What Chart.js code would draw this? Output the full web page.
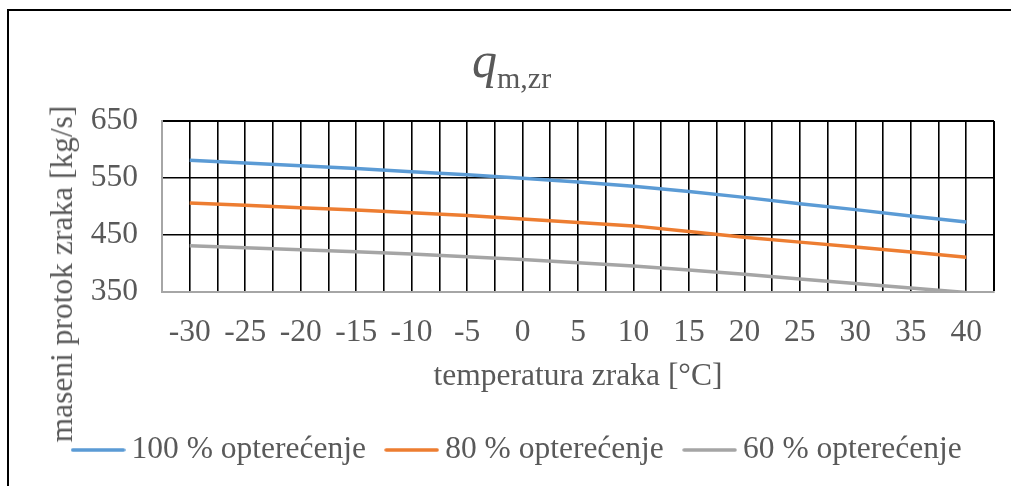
<!DOCTYPE html>
<html>
<head>
<meta charset="utf-8">
<script src="https://cdn.jsdelivr.net/npm/chart.js@4"></script>
<style>
    html, body { margin: 0; padding: 0; background: #fff; }
    body { width: 1011px; height: 486px; position: relative; overflow: hidden; font-family: "Liberation Serif", serif; color: #595959; }
    #frame { position: absolute; left: 7px; top: 9px; width: 1010px; height: 480px; border-top: 2px solid #000; border-left: 2px solid #000; }
    #wrap { position: absolute; left: 8px; top: 10px; width: 1003px; height: 476px; }
    #title { position: absolute; left: 472px; top: 31px; white-space: nowrap; }
    #title i { font-size: 50px; }
    #title span { font-size: 30px; vertical-align: -11px; }
    #ytitle { position: absolute; left: 62px; top: 274px; font-size: 31.5px; white-space: nowrap; transform: translate(-50%, -50%) rotate(-90deg); }
</style>
</head>
<body>
<div id="frame"></div>
<div id="wrap"><canvas id="chart"></canvas></div>
<div id="title"><i>q</i><span>m,zr</span></div>
<div id="ytitle">maseni protok zraka [kg/s]</div>
<script>
    // temperatura zraka [°C]
    const temps = [-30, -25, -20, -15, -10, -5, 0, 5, 10, 15, 20, 25, 30, 35, 40];
    // maseni protok zraka [kg/s]
    const load100 = [581, 576.5, 571.5, 566.5, 561, 555.5, 549.5, 543, 535.5, 526.5, 516, 505, 494.5, 483.5, 473];
    const load80 = [506, 502, 498, 494, 489, 484, 478, 472, 466, 456, 446, 437.5, 429, 420, 411];
    const load60 = [431, 427.5, 424, 420.5, 416.5, 412, 407, 401.5, 395.5, 388.5, 381, 373, 365, 357, 349];
    const seriesNames = ["100 % opterećenje", "80 % opterećenje", "60 % opterećenje"];
    const yTicks = [350, 450, 550, 650];

    const FONT = "Liberation Serif";
    const TEXT = "#595959";
    const toPoints = arr => arr.map((v, i) => ({ x: temps[i], y: v }));

    // little line swatch for the legend (longer than the legend box, like Excel)
    function swatch(color) {
        const c = document.createElement("canvas");
        c.width = 55;
        c.height = 6;
        const g = c.getContext("2d");
        g.strokeStyle = color;
        g.lineWidth = 3.5;
        g.lineCap = "round";
        g.beginPath();
        g.moveTo(2, 3);
        g.lineTo(53, 3);
        g.stroke();
        return c;
    }

    function makeSet(label, values, color) {
        return {
            label: label,
            data: toPoints(values),
            borderColor: color,
            backgroundColor: color,
            borderWidth: 3.5,
            pointRadius: 0,
            pointHoverRadius: 0,
            pointStyle: swatch(color),
            tension: 0,
            fill: false
        };
    }

    const ctx = document.getElementById("chart").getContext("2d");
    new Chart(ctx, {
        type: "line",
        data: {
            datasets: [
                makeSet(seriesNames[0], load100, "#5B9BD5"),
                makeSet(seriesNames[1], load80, "#ED7D31"),
                makeSet(seriesNames[2], load60, "#A5A5A5")
            ]
        },
        options: {
            responsive: true,
            maintainAspectRatio: false,
            animation: false,
            events: [],
            layout: { padding: { left: 40, right: 17, top: 111, bottom: 10.25 } },
            plugins: {
                tooltip: { enabled: false },
                legend: {
                    position: "bottom",
                    labels: {
                        usePointStyle: true,
                        pointStyleWidth: 35.5,
                        padding: 28,
                        color: TEXT,
                        font: { family: FONT, size: 31.5 }
                    }
                }
            },
            scales: {
                x: {
                    type: "linear",
                    min: -32.5,
                    max: 42.5,
                    afterBuildTicks: s => {
                        // one grid line every 2.5 °C, labels only on the data temps
                        const t = [];
                        for (let i = 0; i <= 30; i++) t.push({ value: -32.5 + i * 2.5 });
                        s.ticks = t;
                    },
                    afterFit: s => { s.paddingLeft = 0; s.paddingRight = 0; s.height = 114.25; },
                    grid: {
                        drawTicks: false,
                        color: c => (c.index === 0 ? "rgba(0,0,0,0)" : "#000"),
                        lineWidth: c => (c.index === 30 ? 2 : 1.6)
                    },
                    border: { color: "#A6A6A6", width: 2 },
                    ticks: {
                        autoSkip: false,
                        maxRotation: 0,
                        padding: 21.5,
                        color: TEXT,
                        font: { family: FONT, size: 31.5 },
                        callback: v => (temps.includes(v) ? String(v) : "")
                    },
                    title: {
                        display: true,
                        text: "temperatura zraka [°C]",
                        color: TEXT,
                        font: { family: FONT, size: 31.5 },
                        padding: { top: 7.2, bottom: 10.35 }
                    }
                },
                y: {
                    min: yTicks[0],
                    max: yTicks[yTicks.length - 1],
                    afterBuildTicks: s => { s.ticks = yTicks.map(v => ({ value: v })); },
                    afterFit: s => { s.width = 114; },
                    grid: {
                        drawTicks: false,
                        color: c => (c.tick.value === 350 ? "rgba(0,0,0,0)" : "#000"),
                        lineWidth: c => (c.tick.value === 650 ? 2 : 1.6)
                    },
                    border: { color: "#A6A6A6", width: 2 },
                    ticks: {
                        padding: 24,
                        color: TEXT,
                        font: { family: FONT, size: 31.5 }
                    }
                }
            }
        }
    });
</script>
</body>
</html>
